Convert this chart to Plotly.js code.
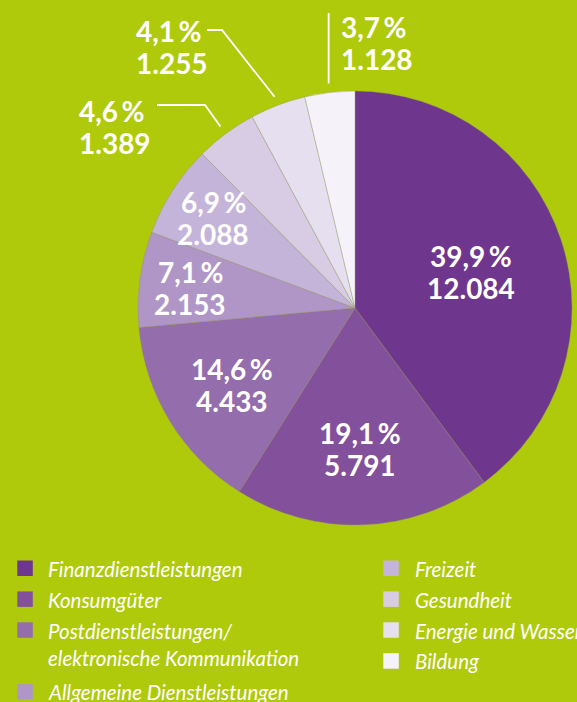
<!DOCTYPE html>
<html>
<head>
<meta charset="utf-8">
<script src="https://cdn.plot.ly/plotly-3.0.1.min.js"></script>
<style>html,body{margin:0;padding:0;background:#AFCA0B;}#chart{width:577px;height:702px;}</style>
</head>
<body>
<div id="chart"></div>
<script>
// ---- data ----
const categories = [
  "Finanzdienstleistungen",
  "Konsumgüter",
  "Postdienstleistungen/<br>elektronische Kommunikation",
  "Allgemeine Dienstleistungen",
  "Freizeit",
  "Gesundheit",
  "Energie und Wasser",
  "Bildung"
];
const values = [12084, 5791, 4433, 2153, 2088, 1389, 1255, 1128];
const colors = ["#6E368C", "#83519B", "#946DAC", "#B096C6", "#C5B4D9", "#D8CCE5", "#E5DFEF", "#F5F2FA"];

// ---- layout helpers ----
const W = 577, H = 702;
const BG = "#AFCA0B";
const domain = {x: [138 / W, 572 / W], y: [1 - 525 / H, 1 - 91 / H]};
const cx = (domain.x[0] + domain.x[1]) / 2 * W;
const cy = (1 - (domain.y[0] + domain.y[1]) / 2) * H;
const R = Math.min((domain.x[1] - domain.x[0]) * W, (domain.y[1] - domain.y[0]) * H) / 2;
const px = x => x / W;
const py = y => 1 - y / H;

const total = values.reduce((a, b) => a + b, 0);
function fmtPct(v) { return (v / total * 100).toFixed(1).replace('.', ',') + '\u2009%'; }
function fmtNum(v) { return String(v).replace(/\B(?=(\d{3})+(?!\d))/g, '.'); }
const mids = [];
{ let c = 0; values.forEach(v => { mids.push((c + v / 2) / total * 2 * Math.PI); c += v; }); }
function polar(i, r) { return [cx + r * Math.sin(mids[i]), cy - r * Math.cos(mids[i])]; }

const annotations = [];
const shapes = [];
const labelFont = {family: "Lato, 'Open Sans', sans-serif", size: 28, color: "#ffffff", weight: 700};
const LINE_GAP = 32;

function addLabel(x, y, i, anchor) {
  [fmtPct(values[i]), fmtNum(values[i])].forEach((t, k) => {
    annotations.push({
      xref: 'paper', yref: 'paper', x: px(x), y: py(y + (k - 0.5) * LINE_GAP + 2),
      xanchor: anchor, yanchor: 'middle', text: '<b>' + t + '</b>',
      showarrow: false, font: labelFont, align: anchor
    });
  });
}

// inside labels (slices 0..4)
const insideR = [0.565, 0.64, 0.663, 0.766, 0.778];
insideR.forEach((f, i) => {
  const [x, y] = polar(i, f * R);
  addLabel(x, y, i, 'center');
});

// outside labels with leader lines (slices 5..7)
const outside = [
  {i: 5, tx: 77, ty: 125, pts: [[157, 105], [205, 105]]},
  {i: 6, tx: 134, ty: 45, pts: [[207, 30], [222, 30]]},
  {i: 7, tx: 339, ty: 41, pts: null}
];
outside.forEach(o => {
  const [ex, ey] = polar(o.i, R + 9);
  addLabel(o.tx, o.ty, o.i, 'left');
  let pts = o.pts ? o.pts.concat([[ex, ey]]) : [[ex, 13], [ex, ey]];
  const path = pts.map((p, k) => (k ? 'L' : 'M') + px(p[0]) + ',' + py(p[1])).join(' ');
  shapes.push({type: 'path', xref: 'paper', yref: 'paper', path: path,
    line: {color: '#ffffff', width: 1.8}});
});

// manual legend (two columns)
const legCol = [0, 0, 0, 0, 1, 1, 1, 1];
const legRow = [0, 1, 2, 4, 0, 1, 2, 3];
const colX = [17.3, 383.3], textX = [46, 412.5];
const rowTop0 = 560.5, rowPitch = 30.9, sq = 15.5;
const legFont = {family: "Lato, 'Open Sans', sans-serif", size: 20.5, color: "#ffffff", style: 'italic'};
categories.forEach((c, i) => {
  const top = rowTop0 + legRow[i] * rowPitch;
  shapes.push({type: 'rect', xref: 'paper', yref: 'paper',
    x0: px(colX[legCol[i]]), x1: px(colX[legCol[i]] + sq), y0: py(top), y1: py(top + sq),
    fillcolor: colors[i], line: {width: 0}});
  c.split('<br>').forEach((line, k) => {
    annotations.push({xref: 'paper', yref: 'paper', x: px(textX[legCol[i]]), y: py(top + sq / 2 + 0.5 + k * 27),
      xanchor: 'left', yanchor: 'middle', text: line, showarrow: false, font: legFont, align: 'left'});
  });
});

const trace = {
  type: 'pie',
  labels: categories,
  values: values,
  sort: false,
  direction: 'clockwise',
  rotation: 0,
  domain: domain,
  textinfo: 'none',
  hoverinfo: 'label+value+percent',
  marker: {colors: colors, line: {color: 'rgba(140,140,110,0.6)', width: 0.6}},
  showlegend: false
};

const layout = {
  width: W, height: H,
  margin: {l: 0, r: 0, t: 0, b: 0},
  paper_bgcolor: BG, plot_bgcolor: BG,
  showlegend: false,
  separators: ',.',
  annotations: annotations,
  shapes: shapes
};

Plotly.newPlot('chart', [trace], layout, {displayModeBar: false, staticPlot: true});
</script>
</body>
</html>
